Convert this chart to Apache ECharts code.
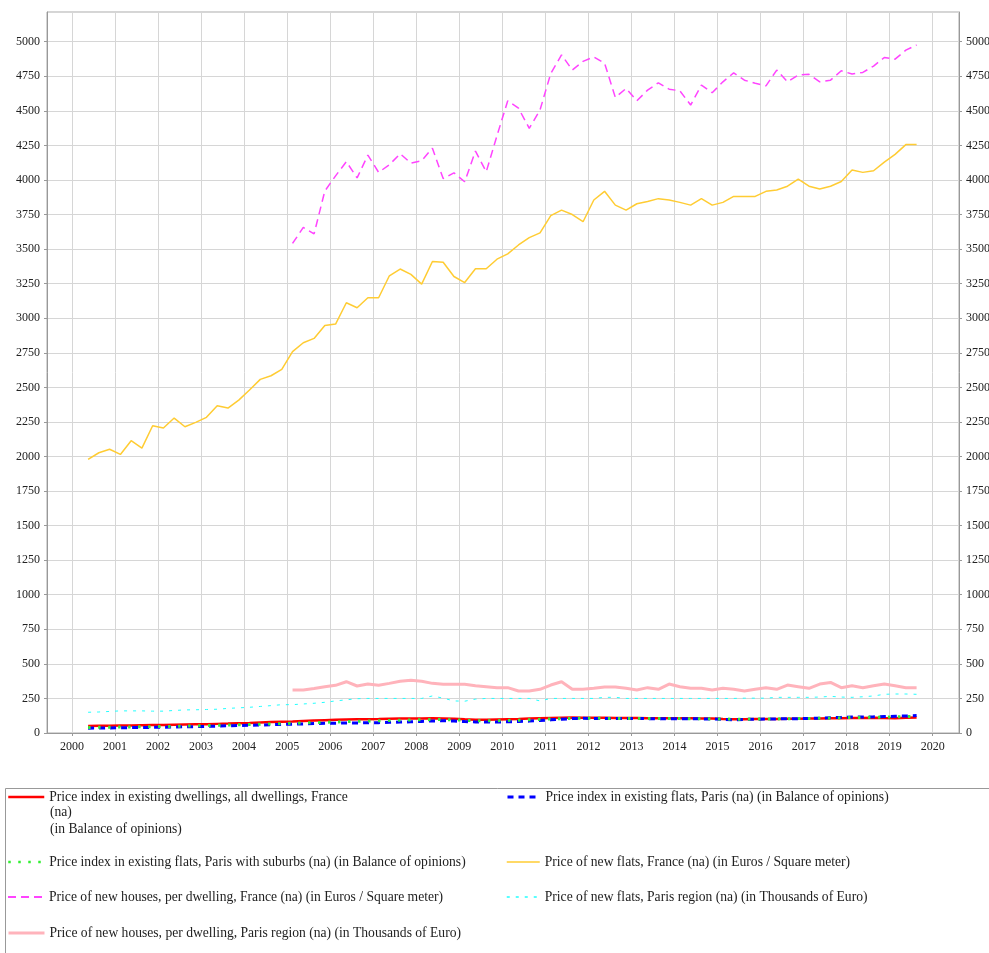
<!DOCTYPE html>
<html>
<head>
<meta charset="utf-8">
<title>Housing prices</title>
<script src="https://cdn.jsdelivr.net/npm/echarts@6/dist/echarts.min.js"></script>
<style>
html, body { margin: 0; padding: 0; background: #fff; overflow: hidden; }
#chart { width: 989px; height: 953px; }
</style>
</head>
<body>
<div id="chart"></div>
<script>
// tick labels of the time axis
var yearTicks = [2000, 2001, 2002, 2003, 2004, 2005, 2006, 2007, 2008, 2009, 2010,
                 2011, 2012, 2013, 2014, 2015, 2016, 2017, 2018, 2019, 2020];

// quarterly periods, 2000 Q2 -> 2019 Q3
var quarters = [];
for (var y = 2000; y <= 2019; y++) {
    for (var q = 1; q <= 4; q++) {
        if ((y == 2000 && q < 2) || (y == 2019 && q > 3)) continue;
        quarters.push(y + '-Q' + q);
    }
}
// the two "new houses" series only start in 2005 Q1
var housesStart = quarters.indexOf('2005-Q1');

var indexDwellingsFrance = [
    51, 52, 53,
    54, 55, 56, 57,   58, 60, 62, 63,   64, 66, 68, 71,   73, 76, 79, 82,
    84, 87, 90, 93,   95, 97, 99, 100,  101, 103, 104, 105, 105, 106, 105, 103,
    99, 96, 96, 98,   100, 102, 105, 107, 109, 111, 112, 111, 110, 110, 109, 108,
    108, 107, 107, 106, 106, 106, 105, 104, 101, 100, 100, 101, 101, 102, 103, 103,
    104, 105, 106, 107, 108, 109, 110, 108, 107, 110, 113
];
var indexFlatsParis = [
    35, 36, 37,
    38, 39, 40, 41,   42, 43, 45, 46,   48, 50, 52, 54,   56, 58, 60, 62,
    64, 66, 68, 70,   71, 72, 73, 74,   75, 77, 79, 81,   84, 87, 89, 87,
    83, 80, 79, 80,   81, 83, 86, 90,   95, 100, 104, 106, 105, 105, 104, 104,
    104, 104, 103, 103, 103, 103, 102, 101, 99, 96, 98, 100, 101, 102, 103, 104,
    105, 107, 110, 113, 115, 116, 117, 119, 121, 123, 126
];
var indexFlatsParisSuburbs = [
    40, 41, 42,
    43, 44, 45, 46,   47, 48, 50, 52,   54, 56, 58, 60,   62, 64, 66, 68,
    70, 72, 75, 78,   80, 82, 84, 86,   88, 90, 92, 94,   96, 97, 97, 95,
    92, 89, 88, 89,   91, 93, 96, 99,   101, 104, 106, 107, 106, 106, 105, 105,
    105, 104, 104, 104, 104, 103, 103, 102, 101, 100, 100, 101, 102, 102, 103, 104,
    105, 106, 108, 110, 112, 113, 114, 116, 117, 119, 121
];
var newFlatsFrance = [
    1979, 2027, 2052,
    2015, 2114, 2061, 2222, 2206, 2278, 2215, 2247, 2283, 2367, 2350, 2408,
    2481, 2558, 2584, 2630, 2758, 2823, 2854, 2948, 2958, 3112, 3076, 3148,
    3148, 3307, 3356, 3317, 3247, 3410, 3405, 3302, 3258, 3358, 3358, 3427,
    3466, 3530, 3583, 3617, 3742, 3782, 3750, 3698, 3855, 3918, 3818, 3782,
    3828, 3845, 3865, 3855, 3838, 3818, 3865, 3818, 3838, 3881, 3881, 3881,
    3918, 3928, 3955, 4007, 3955, 3935, 3955, 3989, 4072, 4055, 4067, 4129,
    4185, 4256, 4256
];
var newFlatsParisRegion = [
    150, 152, 156,
    160, 160, 160, 158, 158, 163, 167, 168, 170, 172, 178, 182,
    186, 192, 198, 205, 205, 210, 215, 222, 232, 240, 248, 250,
    250, 250, 250, 250, 250, 268, 252, 232, 230, 245, 250, 250,
    250, 250, 250, 232, 250, 250, 250, 250, 250, 258, 258, 250,
    250, 250, 250, 250, 250, 250, 250, 250, 250, 250, 252, 252,
    252, 258, 258, 258, 258, 260, 265, 260, 258, 262, 268, 280,
    282, 282, 280
];
// from 2005 Q1
var newHousesFrance = [
    3541, 3657, 3610, 3920, 4030, 4132, 4015, 4180, 4055, 4110, 4190, 4122,
    4140, 4230, 4010, 4052, 3987, 4209, 4059, 4320, 4573, 4519, 4374, 4506,
    4771, 4905, 4795, 4858, 4890, 4845, 4597, 4662, 4573, 4650, 4703, 4657,
    4645, 4542, 4686, 4631, 4710, 4775, 4722, 4699, 4681, 4795, 4710, 4759,
    4764, 4710, 4722, 4790, 4766, 4778, 4824, 4886, 4874, 4939, 4976
];
var newHousesParisRegion = [
    311, 311, 322, 335, 345, 371, 340, 354, 345, 359, 374, 381,
    374, 359, 352, 352, 352, 342, 335, 328, 328, 304, 304, 316,
    347, 371, 316, 316, 323, 333, 333, 323, 311, 328, 316, 354,
    335, 323, 323, 311, 323, 316, 304, 316, 328, 316, 347, 335,
    323, 354, 366, 328, 342, 328, 342, 354, 342, 328, 328
];

var seriesNames = [
    'Price index in existing dwellings, all dwellings, France (na) (in Balance of opinions)',
    'Price index in existing flats, Paris (na) (in Balance of opinions)',
    'Price index in existing flats, Paris with suburbs (na) (in Balance of opinions)',
    'Price of new flats, France (na) (in Euros / Square meter)',
    'Price of new houses, per dwelling, France (na) (in Euros / Square meter)',
    'Price of new flats, Paris region (na) (in Thousands of Euro)',
    'Price of new houses, per dwelling, Paris region (na) (in Thousands of Euro)'
];

// "2003-Q2" -> middle of the quarter as a decimal year
function quarterPos(label) {
    var parts = label.split('-Q');
    return +parts[0] + (+parts[1] - 1) * 0.25 + 0.125;
}

function pairs(values, offset) {
    offset = offset || 0;
    var out = [];
    for (var i = 0; i < values.length; i++) {
        out.push([quarterPos(quarters[i + offset]), values[i]]);
    }
    return out;
}

var font = 'Liberation Serif';
var txtColor = '#222';
var legendSize = 13.6;

function lineSeries(name, values, offset, color, width, dash) {
    return {
        name: name,
        type: 'line',
        data: pairs(values, offset),
        symbol: 'none',
        smooth: false,
        color: color,
        lineStyle: { color: color, width: width, type: dash || 'solid', cap: 'butt' },
        emphasis: { disabled: true },
        animation: false
    };
}

var series = [
    lineSeries(seriesNames[0], indexDwellingsFrance, 0, '#ff0000', 2.5),
    lineSeries(seriesNames[1], indexFlatsParis, 0, '#0000ff', 3, [6, 5]),
    lineSeries(seriesNames[2], indexFlatsParisSuburbs, 0, '#33ee33', 3, [2.5, 7.5]),
    lineSeries(seriesNames[3], newFlatsFrance, 0, '#ffcc33', 1.5),
    lineSeries(seriesNames[4], newHousesFrance, housesStart, '#ff44ff', 1.5, [8, 5]),
    lineSeries(seriesNames[5], newFlatsParisRegion, 0, '#22ffff', 1, [3, 6]),
    lineSeries(seriesNames[6], newHousesParisRegion, housesStart, '#ffb3bb', 3)
];

// legend placement: two columns, row by row
var legendSlots = [
    { left: 7, top: 797 }, { left: 506, top: 797 },
    { left: 7, top: 862 }, { left: 506, top: 862 },
    { left: 7, top: 897 }, { left: 506, top: 897 },
    { left: 7, top: 933 }
];
var legendLineWidth = [2.5, 3, 2.5, 1.5, 2, 1.5, 3];
var legends = [];
for (var k = 0; k < seriesNames.length; k++) {
    legends.push({
        data: [seriesNames[k]],
        left: legendSlots[k].left,
        top: legendSlots[k].top - 7,
        padding: 0,
        itemWidth: legendSlots[k].left > 100 ? 33 : 36,
        itemHeight: 14,
        itemGap: 0,
        selectedMode: false,
        // hide the round marker, keep only the line sample
        itemStyle: { color: 'rgba(0,0,0,0)', borderColor: 'rgba(0,0,0,0)', borderWidth: 0 },
        lineStyle: { width: legendLineWidth[k] },
        formatter: k == 0 ? function () { return 'Price index in existing dwellings, all dwellings, France'; } : '{name}',
        textStyle: { fontFamily: font, fontSize: legendSize, color: txtColor }
    });
}

function plainNumber(v) { return String(v); }

var myChart = echarts.init(document.getElementById('chart'));
var option = {
    backgroundColor: '#fff',
    animation: false,
    grid: {
        left: 47, right: 30, top: 12, bottom: 220,
        outerBoundsMode: 'none',
        containLabel: false,
        show: true, borderColor: '#aaa', borderWidth: 1
    },
    xAxis: {
        type: 'value',
        min: 1999.42,
        max: 2020.61,
        axisLine: { onZero: false, lineStyle: { color: '#999' } },
        axisTick: { show: true, length: 3, customValues: yearTicks, lineStyle: { color: '#999' } },
        axisLabel: {
            customValues: yearTicks, margin: 8, formatter: plainNumber,
            fontFamily: font, fontSize: 12, color: txtColor
        },
        splitLine: { show: true, lineStyle: { color: '#d6d6d6' } }
    },
    yAxis: [{
        type: 'value',
        position: 'left',
        min: 0, max: 5215, interval: 250,
        axisLine: { show: true, lineStyle: { color: '#999' } },
        axisTick: { show: true, length: 3, lineStyle: { color: '#999' } },
        axisLabel: { showMaxLabel: false, margin: 7, formatter: plainNumber, fontFamily: font, fontSize: 12, color: txtColor },
        splitLine: { show: true, lineStyle: { color: '#d6d6d6' } }
    }, {
        type: 'value',
        position: 'right',
        min: 0, max: 5215, interval: 250,
        axisLine: { show: true, lineStyle: { color: '#999' } },
        axisTick: { show: true, length: 3, lineStyle: { color: '#999' } },
        axisLabel: { showMaxLabel: false, margin: 7, formatter: plainNumber, fontFamily: font, fontSize: 12, color: txtColor },
        splitLine: { show: false }
    }],
    legend: legends,
    graphic: [{
        type: 'rect',
        silent: true,
        shape: { x: 5.5, y: 788.5, width: 1000, height: 200 },
        style: { fill: 'none', stroke: '#999', lineWidth: 1 }
    }, {
        type: 'text',
        silent: true,
        left: 50, top: 804,
        style: {
            text: '(na)\n(in Balance of opinions)',
            font: legendSize + 'px "' + font + '"',
            fill: txtColor,
            lineHeight: 17
        }
    }],
    series: series
};
myChart.setOption(option);
</script>
</body>
</html>
